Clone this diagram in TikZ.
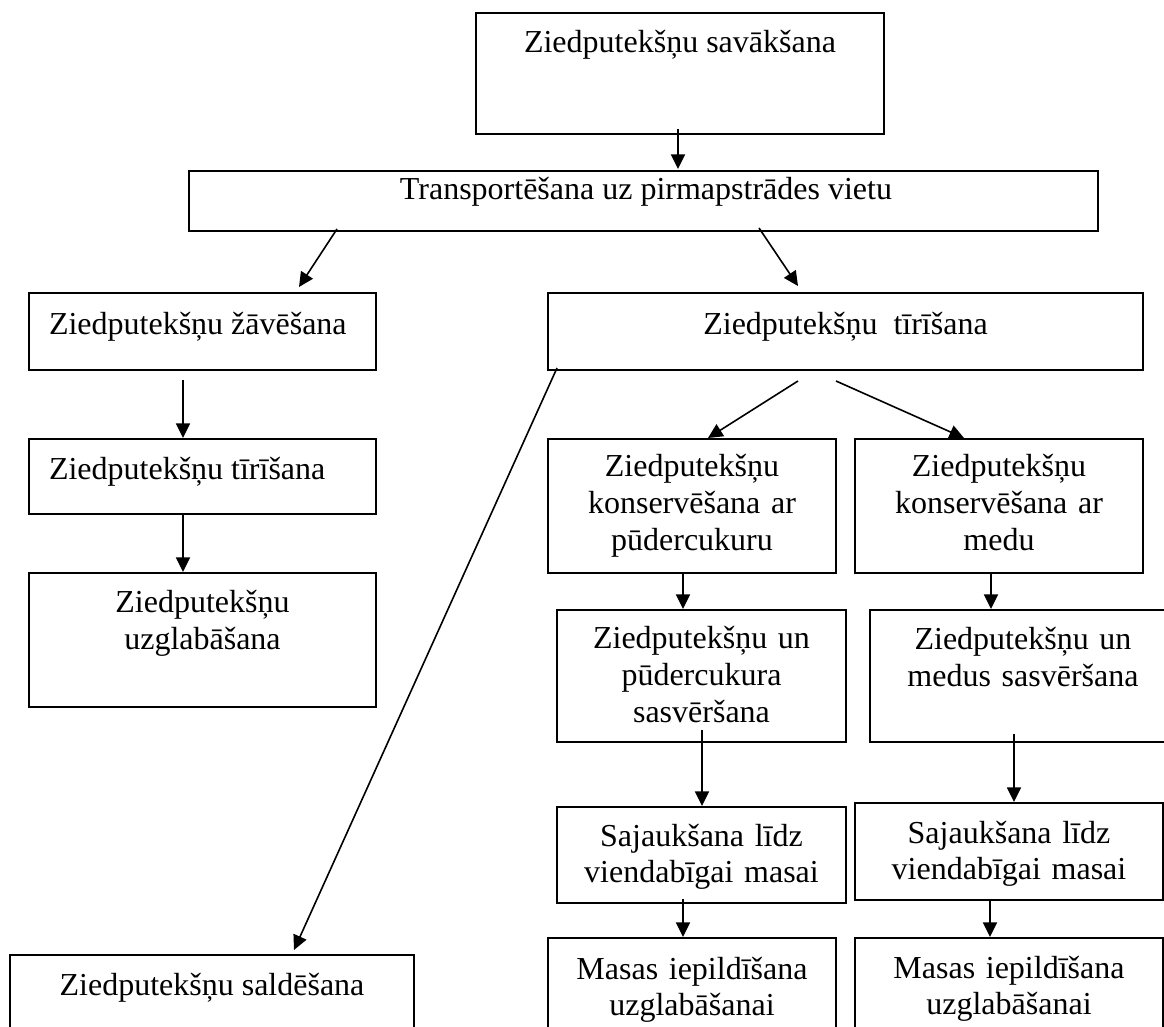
\documentclass[tikz,border=0pt]{standalone}
\usepackage{fontspec}
\setmainfont{Liberation Serif}
\usetikzlibrary{arrows.meta,calc}
\begin{document}
\begin{tikzpicture}[x=0.5pt,y=-0.5pt,
  box/.style={draw=black, line width=1.1pt, rectangle, inner sep=0pt, outer sep=0pt},
  lbl/.style={inner sep=0pt, outer sep=0pt, font=\fontsize{16pt}{18.4pt}\selectfont},
  mlbl/.style={lbl, align=center, text width=170pt},
  arr/.style={line width=0.8pt, -{Triangle[length=7.3pt,width=7pt]}}]
\useasboundingbox (0,0) rectangle (1164,1027);
\clip (0,0) rectangle (1164,1027);
\fill[white] (0,0) rectangle (1164,1027);

% boxes
\node[box, minimum width=204pt,   minimum height=60.5pt] (b1)  at (680,73.5)   {};
\node[box, minimum width=454.5pt, minimum height=30pt]   (b2)  at (643.5,201)  {};
\node[box, minimum width=173.5pt, minimum height=38.5pt] (b3)  at (202.5,331.5){};
\node[box, minimum width=297.5pt, minimum height=38.5pt] (b4)  at (845.5,331.5){};
\node[box, minimum width=173.5pt, minimum height=37.5pt] (b5)  at (202.5,476.5){};
\node[box, minimum width=173.5pt, minimum height=67pt]   (b6)  at (202.5,640)  {};
\node[box, minimum width=202pt,   minimum height=52.5pt] (b7)  at (212,1007.5) {};
\node[box, minimum width=144pt,   minimum height=67pt]   (b8)  at (692,506)    {};
\node[box, minimum width=144pt,   minimum height=67pt]   (b9)  at (999,506)    {};
\node[box, minimum width=144.5pt, minimum height=66pt]   (b10) at (701.5,676)  {};
\node[box, minimum width=155pt,   minimum height=66pt]   (b11) at (1025,676)   {};
\node[box, minimum width=144.5pt, minimum height=48pt]   (b12) at (701.5,855)  {};
\node[box, minimum width=154pt,   minimum height=48.5pt] (b13) at (1009,851.5) {};
\node[box, minimum width=144pt,   minimum height=61pt]   (b14) at (692,999)    {};
\node[box, minimum width=154pt,   minimum height=61pt]   (b15) at (1009,999)   {};

% texts
\node[lbl, anchor=base] (t1) at (680,53) {Ziedputekšņu savākšana};
\node[lbl, anchor=base] (t2) at (646,200) {Transportēšana uz pirmapstrādes vietu};
\node[lbl, anchor=base west] (t3) at (49,335) {Ziedputekšņu žāvēšana};
\node[lbl, anchor=base] (t4) at (845.5,335) {Ziedputekšņu\ \ tīrīšana};
\node[lbl, anchor=base west] (t5) at (49,480) {Ziedputekšņu tīrīšana};
\node[mlbl, anchor=base] (t6) at (202.5,612.5) {Ziedputekšņu\\uzglabāšana};
\node[lbl, anchor=base] (t7) at (212,995) {Ziedputekšņu saldēšana};
\node[mlbl, anchor=base] (t8) at (692,477) {Ziedputekšņu\\konservēšana ar\\pūdercukuru};
\node[mlbl, anchor=base] (t9) at (999,477) {Ziedputekšņu\\konservēšana ar\\medu};
\node[mlbl, anchor=base] (t10) at (701.5,649) {Ziedputekšņu un\\pūdercukura\\sasvēršana};
\node[mlbl, anchor=base] (t11) at (1023,650) {Ziedputekšņu un\\medus sasvēršana};
\node[mlbl, anchor=base] (t12) at (701.5,846) {Sajaukšana līdz\\viendabīgai masai};
\node[mlbl, anchor=base] (t13) at (1009,843) {Sajaukšana līdz\\viendabīgai masai};
\node[mlbl, anchor=base] (t14) at (692,979) {Masas iepildīšana\\uzglabāšanai};
\node[mlbl, anchor=base] (t15) at (1009,978) {Masas iepildīšana\\uzglabāšanai};

% connectors
\draw[arr] ($(b1.south)+(-2,-5)$) -- ($(b2.north)+(34.5,-2)$);
\draw[arr] ($(b2.south)+(-306.5,-2)$) -- ($(b3.north)+(96.5,-6)$);
\draw[arr] ($(b2.south)+(115.5,-3)$) -- ($(b4.north)+(-47.5,-7)$);
\draw[arr] ($(b3.south)+(-19.5,10)$) -- ($(b5.north)+(-19.5,-1)$);
\draw[arr] ($(b5.south)+(-19.5,0)$) -- ($(b6.north)+(-19.5,-1)$);
\draw[arr] ($(b4.south west)+(9,-2)$) -- ($(b7.north)+(82,-5)$);
\draw[arr] ($(b4.south)+(-47.5,11)$) -- ($(b8.north)+(16,-1)$);
\draw[arr] ($(b4.south)+(-9.5,11)$) -- ($(b9.north)+(-35,-1)$);
\draw[arr] ($(b8.south)+(-9,1)$) -- ($(b10.north)+(-18.5,-1)$);
\draw[arr] ($(b9.south)+(-8,0)$) -- ($(b11.north)+(-34,-1)$);
\draw[arr] ($(b10.south)+(0.5,-12)$) -- ($(b12.north)+(0.5,-1)$);
\draw[arr] ($(b11.south)+(-11,-8)$) -- ($(b13.north)+(5,-1)$);
\draw[arr] ($(b12.south)+(-18.5,-4)$) -- ($(b14.north)+(-9,-1)$);
\draw[arr] ($(b13.south)+(-19,0)$) -- ($(b15.north)+(-19,-1)$);
\end{tikzpicture}
\end{document}
